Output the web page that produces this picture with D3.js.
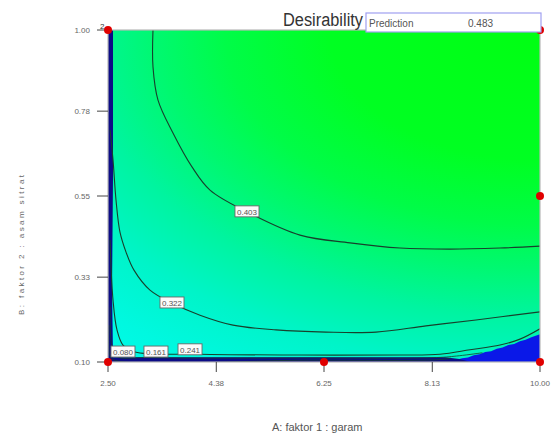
<!DOCTYPE html>
<html><head><meta charset="utf-8">
<script src="https://cdn.jsdelivr.net/npm/d3@7"></script>
<style>body{margin:0;background:#fff}svg{display:block}</style>
</head><body>
<svg id="c" width="552" height="437"></svg>
<script>
// ---- data ----
const xTicks = [2.50, 4.38, 6.25, 8.13, 10.00];
const yTicks = [0.10, 0.33, 0.55, 0.78, 1.00];
const xTickLabels = ["2.50", "4.38", "6.25", "8.13", "10.00"];
const yTickLabels = ["0.10", "0.33", "0.55", "0.78", "1.00"];
const contourLevels = ["0.080", "0.161", "0.241", "0.322", "0.403"];
const contour403 = [[3.281,1.0],[3.281,0.900],[3.368,0.810],[3.628,0.721],[3.958,0.629],[4.271,0.566],[4.913,0.507],[5.833,0.444],[6.701,0.423],[7.569,0.409],[8.438,0.406],[9.306,0.409],[10.0,0.414]];
const contour322 = [[2.535,0.729],[2.587,0.648],[2.639,0.539],[2.708,0.452],[2.813,0.398],[2.951,0.349],[3.229,0.295],[3.611,0.260],[4.097,0.227],[4.670,0.200],[5.417,0.187],[6.285,0.181],[7.153,0.181],[8.021,0.198],[8.889,0.214],[10.0,0.236]];
const contour241 = [[2.535,0.431],[2.587,0.268],[2.656,0.187],[2.760,0.146],[2.969,0.127],[4.097,0.121],[5.833,0.119],[7.569,0.119],[8.264,0.121],[8.785,0.133],[9.306,0.146],[9.653,0.162],[10.0,0.190]];
const contour161 = [[2.54,0.250],[2.56,0.150],[2.64,0.116],[3.2,0.112],[6.0,0.111],[8.2,0.112],[8.6,0.117],[9.0,0.125]];
const contour080 = [[2.52,0.200],[2.53,0.120],[2.6,0.106],[6.0,0.105],[8.2,0.106],[8.45,0.110]];
const contourLines = [contour080, contour161, contour241, contour322, contour403];
const labelPos = [[2.760,0.127],[3.333,0.127],[3.924,0.133],[3.611,0.260],[4.913,0.507]];
// zero-desirability regions
const navyRegion = [[2.5,1.0],[2.587,1.0],[2.587,0.60],[2.57,0.30],[2.587,0.113],[8.35,0.113],[8.6,0.108],[8.8,0.100],[2.5,0.100]];
const blueRegion = [[8.35,0.100],[8.45,0.104],[8.55,0.106],[8.65,0.110],[8.75,0.112],[8.85,0.118],[8.95,0.121],[9.05,0.127],[9.15,0.129],[9.25,0.136],[9.35,0.139],[9.45,0.146],[9.55,0.149],[9.65,0.156],[9.75,0.160],[9.85,0.167],[10.0,0.175],[10.0,0.100]];
const designPoints = [[2.5,1.0],[10,1.0],[10,0.55],[10,0.1],[2.5,0.1],[6.25,0.1]];
const prediction = "0.483";

// ---- layout ----
const L = 108, R = 540, T = 30, B = 362;
const x = d3.scaleLinear().domain([2.5, 10]).range([L, R]);
const y = d3.scaleLinear().domain([0.1, 1.0]).range([B, T]);
const svg = d3.select("#c");
const font = "'Liberation Sans', Arial, sans-serif";

const defs = svg.append("defs");
defs.append("clipPath").attr("id","clip").append("rect")
  .attr("x",L).attr("y",T).attr("width",R-L).attr("height",B-T);
const g = defs.append("radialGradient").attr("id","grad")
  .attr("gradientUnits","userSpaceOnUse")
  .attr("cx",R).attr("cy",T).attr("r",700)
  .attr("gradientTransform",`translate(${R},${T}) scale(1,0.62) translate(${-R},${-T})`);
[[0,"#00ff12"],[0.30,"#00ff22"],[0.45,"#00fc48"],[0.55,"#00f870"],[0.66,"#00f4a0"],[0.78,"#00f4c8"],[0.90,"#00f8e0"],[1,"#00fcec"]]
  .forEach(([o,c]) => g.append("stop").attr("offset",o).attr("stop-color",c));

const plot = svg.append("g").attr("clip-path","url(#clip)");
plot.append("rect").attr("x",L).attr("y",T).attr("width",R-L).attr("height",B-T).attr("fill","url(#grad)");

const line = d3.line().x(d => x(d[0])).y(d => y(d[1]));
const curve = d3.line().x(d => x(d[0])).y(d => y(d[1])).curve(d3.curveCatmullRom);

plot.append("path").attr("d", line(blueRegion) + "Z").attr("fill","#0a18e8");
plot.append("path").attr("d", line(navyRegion) + "Z").attr("fill","#0c0c86");

contourLines.forEach((c, i) => {
  plot.append("path").attr("d", curve(c)).attr("fill","none")
    .attr("stroke","#17402c").attr("stroke-width", i < 2 ? 0.8 : 1.1);
});

// contour labels
labelPos.forEach((p, i) => {
  const gx = plot.append("g").attr("transform",`translate(${x(p[0])},${y(p[1])})`);
  gx.append("rect").attr("x",-12).attr("y",-6).attr("width",24).attr("height",11)
    .attr("fill","#fbfbfb").attr("stroke","#666").attr("stroke-width",0.9);
  gx.append("text").attr("text-anchor","middle").attr("y",3).attr("font-size",8)
    .attr("font-family",font).attr("fill","#555").text(contourLevels[i]);
});

// frame
svg.append("rect").attr("x",L).attr("y",T).attr("width",R-L).attr("height",B-T)
  .attr("fill","none").attr("stroke","#b8b8b8").attr("stroke-width",1.2);

// axes
const ya = svg.append("g");
yTicks.forEach((t, i) => {
  ya.append("line").attr("x1",L-11).attr("x2",L).attr("y1",y(t)).attr("y2",y(t)).attr("stroke","#444");
  ya.append("text").attr("x",L-18).attr("y",y(t)+3).attr("text-anchor","end")
    .attr("font-size",8).attr("font-family",font).attr("fill","#666").text(yTickLabels[i]);
});
const xa = svg.append("g");
xTicks.forEach((t, i) => {
  xa.append("line").attr("x1",x(t)).attr("x2",x(t)).attr("y1",B).attr("y2",B+10).attr("stroke","#444");
  xa.append("text").attr("x",x(t)).attr("y",B+24).attr("text-anchor","middle")
    .attr("font-size",8).attr("font-family",font).attr("fill","#666").text(xTickLabels[i]);
});

// axis titles
svg.append("text").attr("x",272).attr("y",431).attr("font-size",11).attr("font-family",font)
  .attr("fill","#555").text("A: faktor 1 : garam");
svg.append("text").attr("transform","translate(24,245) rotate(-90)").attr("text-anchor","middle")
  .attr("font-size",8).attr("font-family",font).attr("fill","#666")
  .attr("textLength",140).attr("lengthAdjust","spacing").text("B: faktor 2 : asam sitrat");

// design points
svg.selectAll("circle.dp").data(designPoints).join("circle").attr("class","dp")
  .attr("cx",d => x(d[0])).attr("cy",d => y(d[1])).attr("r",4).attr("fill","#e00000");
svg.append("text").attr("x",x(2.5)-8).attr("y",y(1.0)-1).attr("font-size",8).attr("font-family",font)
  .attr("fill","#333").text("2");

// title and prediction box
svg.append("text").attr("x",283).attr("y",26).attr("font-size",18).attr("font-family",font)
  .attr("fill","#333").attr("textLength",80).attr("lengthAdjust","spacingAndGlyphs").text("Desirability");
svg.append("rect").attr("x",366).attr("y",13).attr("width",175).attr("height",19)
  .attr("fill","#fff").attr("stroke","#a0a0f0").attr("stroke-width",1.2);
svg.append("text").attr("x",369).attr("y",27).attr("font-size",10).attr("font-family",font)
  .attr("fill","#555").text("Prediction");
svg.append("text").attr("x",468).attr("y",27).attr("font-size",10).attr("font-family",font)
  .attr("fill","#555").text(prediction);
</script>
</body></html>
